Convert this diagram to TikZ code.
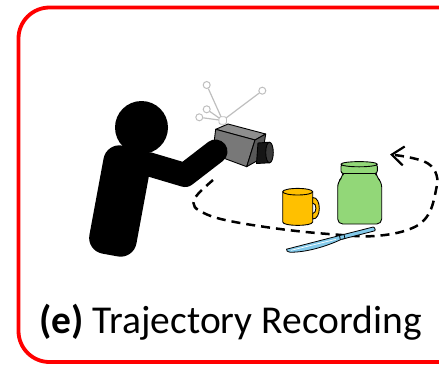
\documentclass[tikz,border=0pt]{standalone}
\usepackage{fontspec}
\setmainfont{Carlito}
\usetikzlibrary{arrows.meta}

\definecolor{frame}{RGB}{255,0,0}
\definecolor{mugcol}{RGB}{255,192,0}
\definecolor{jarcol}{RGB}{146,215,120}
\definecolor{knifecol}{RGB}{131,202,235}
\definecolor{camfront}{RGB}{120,120,120}
\definecolor{camtop}{RGB}{142,142,142}
\definecolor{camside}{RGB}{88,88,88}
\definecolor{lensbody}{RGB}{22,22,22}
\definecolor{lensend}{RGB}{58,58,58}
\definecolor{markgray}{RGB}{190,190,190}

\tikzset{
  outline/.style={draw=black, line width=0.9pt, line join=round},
  limb/.style={draw=black, line cap=round, line join=round},
  markerball/.style={circle, draw=markgray, fill=white, line width=1pt, inner sep=0pt, minimum size=7pt},
  trajectory/.style={draw=black, line width=2.5pt, dash pattern=on 9pt off 6pt,
    -{Straight Barb[length=12pt,width=19pt,line width=2.2pt]}},
  caption/.style={font=\fontsize{39.5}{46}\selectfont, anchor=base, inner sep=0pt}
}

\begin{document}
\begin{tikzpicture}[x=1pt, y=-1pt]
  \useasboundingbox (0,0) rectangle (439,365);
  \clip (0,0) rectangle (439,365);

  % panel frame (open on the right)
  \draw[frame, line width=3.8pt, rounded corners=31pt] (18.5,7.5) rectangle (480,362);

  % recorded trajectory around the objects
  \draw[trajectory] plot[smooth, tension=0.65] coordinates {
    (213,180) (198,194) (193.5,203) (200,211) (225,220) (280,229) (335,234.5)
    (375,236) (410,229) (428,215) (436,190) (436.5,175) (428,163.5) (410,157.5) (390,154.5)};

  % mug
  \path[outline, fill=mugcol]
    (282.7,191.7) -- (282.7,222) .. controls (283,226.5) and (312.4,226.5) .. (312.7,222)
    -- (312.7,191.7) -- cycle;
  \path[outline, fill=mugcol]
    (312.7,197.5) .. controls (321.5,197) and (321.5,219.5) .. (312.7,219)
    -- (312.7,213.5) .. controls (317,213.5) and (317,203) .. (312.7,203) -- cycle;
  \path[outline, fill=mugcol] (297.7,191.7) ellipse [x radius=15, y radius=3.3];

  % jar
  \path[outline, fill=jarcol, rounded corners=5pt]
    (343,170) -- (343,176.5) -- (337.7,182) -- (337.7,224) -- (381.7,224)
    -- (381.7,182) -- (376,176.5) -- (376,170) -- cycle;
  \path[outline, fill=jarcol, rounded corners=2.5pt]
    (341,164) rectangle (377.3,173.5);
  \path[outline, fill=jarcol] (359.15,164.2) ellipse [x radius=18.15, y radius=2.6];

  % knife
  \path[outline, fill=knifecol, line width=0.8pt]
    (286.5,249.2) -- (340.5,235.3) -- (341,239.5)
    .. controls (325,247) and (305,252.5) .. (290,252.2)
    .. controls (287.5,252) and (286.3,250.8) .. cycle;
  \draw[white, line width=0.7pt] (291,250.3) -- (336,239.3);
  \path[outline, fill=knifecol, line width=0.8pt, rounded corners=1pt]
    (340.5,235.3) -- (374,226.8) -- (375.6,230.6) -- (341,239.5) -- cycle;
  \path[outline, fill=knifecol, line width=0.8pt] (339.5,235.5) -- (344,234.6) -- (345,238.4) -- (340.3,239.6) -- cycle;

  % camera body
  \path[outline, fill=camtop]   (215.7,129.3) -- (228,124) -- (265.7,134) -- (255,140) -- cycle;
  \path[outline, fill=camfront] (215.7,129.3) -- (255,140) -- (246.7,166.7) -- (212.5,154) -- cycle;
  \path[outline, fill=camside]  (255,140) -- (265.7,134) -- (262,158) -- (246.7,166.7) -- cycle;
  % camera lens
  \path[outline, fill=lensbody] (258,143) -- (269.5,142.2) -- (269.5,162.8) -- (256.5,163.5) -- cycle;
  \path[outline, fill=lensend] (269.5,152.5) ellipse [x radius=3.8, y radius=10.3];

  % tracking markers on top of the camera
  \coordinate (hub) at (222.7,120.5);
  \node[markerball] (m1) at (206.7,85) {};
  \node[markerball] (m2) at (262.3,90.7) {};
  \node[markerball] (m3) at (206.7,109.3) {};
  \node[markerball] (m4) at (199.3,117.3) {};
  \foreach \m in {m1,m2,m3,m4}
    \draw[markgray, line width=1.2pt] (hub) -- (\m);
  \node[draw=markgray, fill=white, line width=0.9pt, rounded corners=2pt,
        minimum size=7.5pt, inner sep=0pt] (hubbox) at (hub) {};

  % person
  \fill[black, rounded corners=16pt]
    (106.5,142.7) -- (153.5,151.3) -- (133.5,259.3) -- (86.5,250.7) -- cycle;
  \fill[black] (141.5,127.5) circle [radius=26.5];
  \draw[limb, line width=24pt] (148,164) -- (185,175) -- (215.5,151.5);

  % caption
  \node[caption] (label) at (230.5,333) {\textbf{(e)} Trajectory Recording};
\end{tikzpicture}
\end{document}
